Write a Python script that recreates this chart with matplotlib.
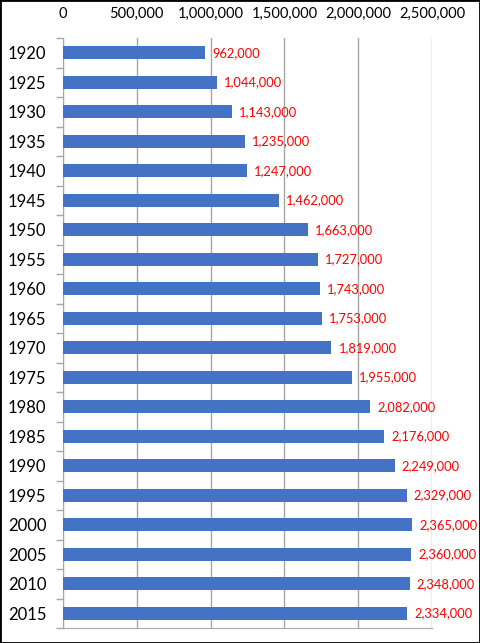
import matplotlib.pyplot as plt
from matplotlib.patches import Rectangle
import numpy as np

years = ["1920", "1925", "1930", "1935", "1940", "1945", "1950", "1955", "1960", "1965",
         "1970", "1975", "1980", "1985", "1990", "1995", "2000", "2005", "2010", "2015"]
population = [962000, 1044000, 1143000, 1235000, 1247000, 1462000, 1663000, 1727000,
              1743000, 1753000, 1819000, 1955000, 2082000, 2176000, 2249000, 2329000,
              2365000, 2360000, 2348000, 2334000]
xticks = [0, 500000, 1000000, 1500000, 2000000, 2500000]

plt.rcParams['font.family'] = ['Lato', 'DejaVu Sans']

fig = plt.figure(figsize=(4.8, 6.43), dpi=100)
ax = fig.add_axes([63/480, 15/643, 369/480, 590/643])

y = np.arange(len(years))
ax.barh(y, population, height=0.45, color="#4472c4", zorder=3)
for yi, v in zip(y, population):
    ax.annotate(f"{v:,}", (v, yi), xytext=(5, 0), textcoords="offset points",
                va="center", ha="left", color="red", fontsize=9.3)

ax.set_xlim(0, 2500000)
ax.set_ylim(len(years) - 0.5, -0.5)
ax.set_xticks(xticks)
ax.set_xticklabels([f"{t:,}" for t in xticks], fontsize=10.5)
ax.xaxis.tick_top()
ax.tick_params(axis="x", length=0, pad=12)
ax.grid(axis="x", color="#a6a6a6", linewidth=1, zorder=0)

ax.set_yticks(y)
ax.set_yticklabels(years, fontsize=12)
ax.tick_params(axis="y", which="major", length=0, pad=12)
ax.set_yticks(np.arange(-0.5, len(years)), minor=True)
ax.tick_params(axis="y", which="minor", length=5, color="#a6a6a6", width=1)

for s in ["top", "right"]:
    ax.spines[s].set_visible(False)
for s in ["left", "bottom"]:
    ax.spines[s].set_color("#a6a6a6")

fig.patches.append(Rectangle((0, 0), 1, 1, transform=fig.transFigure, fill=False,
                             edgecolor="black", linewidth=2))

fig.savefig("out.png", dpi=100)
